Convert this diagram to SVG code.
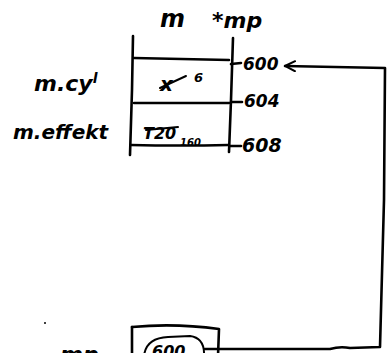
<svg xmlns="http://www.w3.org/2000/svg" width="387" height="353" viewBox="0 0 387 353">
  <defs>
    <style>
      .ink { fill: none; stroke: #000; stroke-width: 2.6; stroke-linecap: round; stroke-linejoin: round; }
      .thin { fill: none; stroke: #000; stroke-width: 2; stroke-linecap: round; stroke-linejoin: round; }
      .hand { font-family: "DejaVu Sans", "Liberation Sans", sans-serif; font-style: italic; font-weight: bold; fill: #000; }
    </style>
    <marker id="open-arrow" viewBox="0 0 12 12" refX="11" refY="6" markerWidth="12" markerHeight="12" markerUnits="userSpaceOnUse" orient="auto">
      <path d="M1 1 L11 6 L1 11" fill="none" stroke="#000" stroke-width="2" stroke-linecap="round"/>
    </marker>
  </defs>
  <rect width="387" height="353" fill="#fff"/>

  <!-- heading over the struct -->
  <g id="heading">
    <text class="hand" x="160" y="27" font-size="24">m</text>
    <text class="hand" x="212" y="28" font-size="22">*mp</text>
  </g>

  <!-- struct m laid out in memory -->
  <g id="struct-m">
    <path class="ink" d="M133 36 L132 90 L130 155"/>
    <path class="ink" d="M233 38 L231 100 L229 152"/>
    <path class="ink" d="M134 58 Q180 59 229 60"/>
    <path class="ink" d="M134 103 L229 103"/>
    <path class="ink" d="M131 145 Q180 146 228 145"/>
    <!-- cyl field -->
    <text class="hand" x="160" y="91" font-size="20">x</text>
    <path class="thin" d="M160 88 L186 76"/>
    <text class="hand" x="194" y="82" font-size="13">6</text>
    <!-- effekt field -->
    <text class="hand" x="143" y="139" font-size="16">T20</text>
    <path class="thin" d="M146 130 L178 127"/>
    <text class="hand" x="180" y="146" font-size="10">160</text>
  </g>

  <!-- member names -->
  <g id="member-names">
    <text class="hand" x="34" y="91" font-size="22">m.cy<tspan font-size="14" dy="-8">l</tspan></text>
    <text class="hand" x="13" y="139" font-size="20">m.effekt</text>
  </g>

  <!-- addresses -->
  <g id="addresses">
    <path class="ink" d="M231 64 L241 63"/>
    <path class="ink" d="M231 102 L242 102"/>
    <path class="ink" d="M230 146 L241 146"/>
    <text class="hand" x="243" y="70" font-size="17">600</text>
    <text class="hand" x="244" y="107" font-size="17">604</text>
    <text class="hand" x="242" y="152" font-size="19">608</text>
  </g>

  <!-- pointer variable mp -->
  <g id="pointer-mp">
    <text class="hand" x="60" y="362" font-size="22">mp</text>
    <path class="ink" d="M132 327 Q175 323 219 329 L218 356"/>
    <path class="ink" d="M132 327 L132 356"/>
    <path class="thin" d="M144 356 Q146 338 168 337 L190 336 Q205 338 204 356"/>
    <text class="hand" x="152" y="357" font-size="16">600</text>
    <circle cx="45" cy="323" r="1" fill="#000"/>
  </g>

  <!-- connector from mp to address 600 -->
  <g id="connectors">
    <path class="ink" d="M205 349 L330 349 Q340 346 350 348 L380 347 L384 200 L385 68 L285 66" marker-end="url(#open-arrow)"/>
  </g>
</svg>
